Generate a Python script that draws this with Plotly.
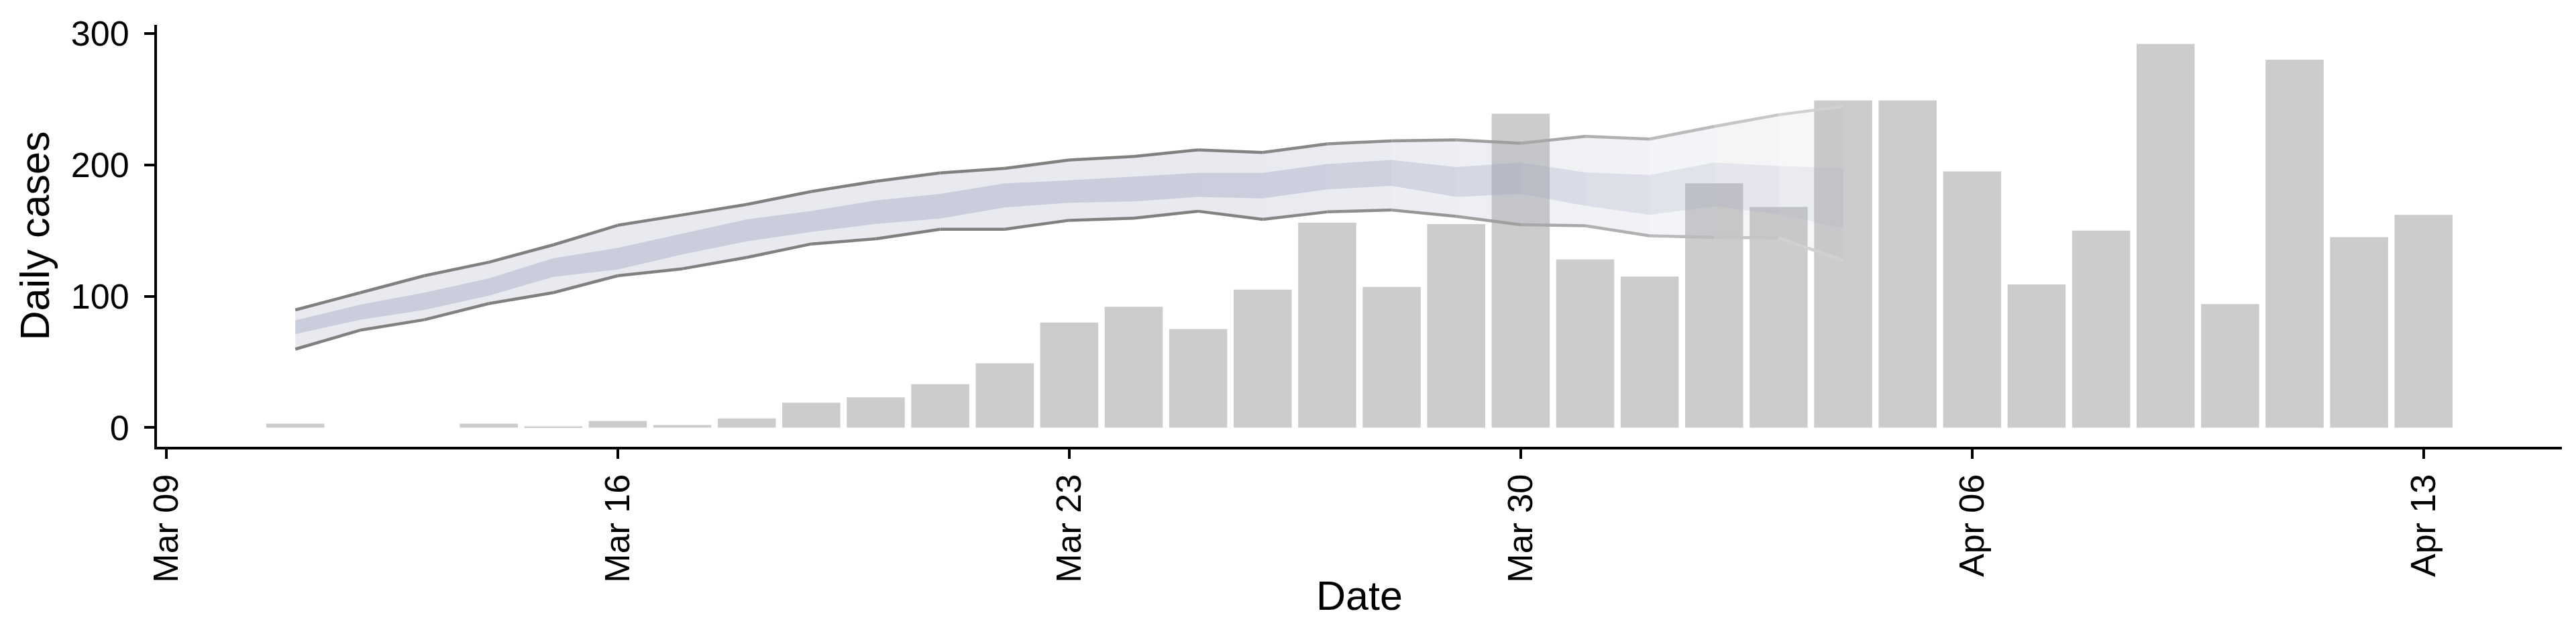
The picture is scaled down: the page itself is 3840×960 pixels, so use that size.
import pandas as pd
import plotly.graph_objects as go

# ---------------- data ----------------
case_dates = pd.date_range("2020-03-11", "2020-04-13", freq="D")
daily_cases = [3, 0, 0, 3, 1, 5, 2, 7, 19, 23,
               33, 49, 80, 92, 75, 105, 156, 107, 155, 239,
               128, 115, 186, 168, 249, 249, 195, 109, 150, 292,
               94, 280, 145, 162]

est_dates = pd.date_range("2020-03-11", "2020-04-04", freq="D")
outer_upper = [89.6, 102.6, 115.6, 125.9, 139.1, 154.0, 161.9, 169.9, 179.7, 187.5,
               193.9, 197.3, 203.7, 206.4, 211.4, 209.4, 216.0, 218.3, 219.0, 216.5,
               221.7, 219.7, 229.2, 238.1, 244.5]
outer_lower = [59.7, 74.1, 82.1, 94.4, 102.7, 115.6, 120.9, 129.5, 139.8, 143.7,
               151.0, 151.0, 157.8, 159.4, 164.7, 158.5, 164.2, 165.6, 160.8, 154.4,
               153.7, 146.0, 144.8, 144.4, 127.3]
inner_upper = [81.7, 93.5, 102.7, 113.6, 128.9, 136.8, 147.6, 158.5, 164.9, 172.9,
               177.9, 185.9, 188.2, 191.1, 193.9, 193.9, 200.7, 203.7, 198.4, 201.8,
               194.3, 192.3, 201.8, 199.1, 197.3]
inner_lower = [71.2, 82.1, 89.6, 100.4, 114.7, 120.4, 131.8, 141.8, 148.9, 155.1,
               159.2, 167.6, 171.1, 172.2, 175.6, 174.5, 181.3, 184.0, 175.6, 177.9,
               168.8, 161.9, 168.3, 162.6, 151.7]

tick_dates = ["2020-03-09", "2020-03-16", "2020-03-23", "2020-03-30", "2020-04-06", "2020-04-13"]
tick_labels = ["Mar 09", "Mar 16", "Mar 23", "Mar 30", "Apr 06", "Apr 13"]
y_ticks = [0, 100, 200, 300]

# ---------------- style ----------------
FONT = "Liberation Sans"
DAY_MS = 86400000
BAR_W = 0.9
fade_start = pd.Timestamp("2020-03-25")
fade_end = est_dates[-1]


def fade(t):
    """opacity multiplier: solid for the estimate, fading for the nowcast"""
    if t <= fade_start:
        return 1.0
    f = (t - fade_start) / (fade_end - fade_start)
    return 1.0 - 0.68 * (f ** 1.3)


fig = go.Figure()

fig.add_trace(go.Bar(
    x=case_dates, y=daily_cases, width=BAR_W * DAY_MS,
    marker=dict(color="#cccccc", line=dict(width=0)),
    hoverinfo="x+y",
))

# ribbons, drawn interval by interval so their opacity can fade
for i in range(len(est_dates) - 1):
    d0, d1 = est_dates[i], est_dates[i + 1]
    m = fade(d0 + (d1 - d0) / 2)
    xs = [d0, d1, d1, d0, d0]
    fig.add_trace(go.Scatter(
        x=xs, y=[outer_upper[i], outer_upper[i + 1], outer_lower[i + 1], outer_lower[i], outer_upper[i]],
        mode="lines", fill="toself", line=dict(width=0),
        fillcolor=f"rgba(167,171,195,{0.25 * m:.3f})", hoverinfo="skip",
    ))
    fig.add_trace(go.Scatter(
        x=xs, y=[inner_upper[i], inner_upper[i + 1], inner_lower[i + 1], inner_lower[i], inner_upper[i]],
        mode="lines", fill="toself", line=dict(width=0),
        fillcolor=f"rgba(155,163,190,{0.40 * m:.3f})", hoverinfo="skip",
    ))

for i in range(len(est_dates) - 1):
    d0, d1 = est_dates[i], est_dates[i + 1]
    m = fade(d0 + (d1 - d0) / 2)
    g = int(round(255 - 127 * m))
    col = f"rgb({g},{g},{g})"
    for arr in (outer_upper, outer_lower):
        fig.add_trace(go.Scatter(
            x=[d0, d1], y=[arr[i], arr[i + 1]], mode="lines",
            line=dict(color=col, width=4.5), hoverinfo="skip",
        ))

# axis ranges with ggplot-like 5% expansion
left = case_dates[0] - pd.Timedelta(days=BAR_W / 2)
right = case_dates[-1] + pd.Timedelta(days=BAR_W / 2)
pad = (right - left) * 0.05
ymax = max(max(daily_cases), max(outer_upper))
ypad = 0.05 * ymax

fig.update_layout(
    width=3840, height=960,
    margin=dict(l=226, r=29, t=29, b=302),
    plot_bgcolor="white", paper_bgcolor="white",
    showlegend=False,
    font=dict(family=FONT, color="black"),
    xaxis=dict(
        type="date", range=[left - pad, right + pad],
        tickvals=tick_dates, ticktext=tick_labels, tickangle=-90,
        ticks="outside", ticklen=14, tickwidth=4, tickcolor="black",
        showline=True, linewidth=4, linecolor="black",
        showgrid=False, zeroline=False,
        tickfont=dict(family=FONT, size=52, color="black"),
        ticklabelstandoff=2,
        title=dict(text="Date", font=dict(family=FONT, size=61, color="black"), standoff=0),
    ),
    yaxis=dict(
        range=[-ypad, ymax + ypad], tickvals=y_ticks,
        ticks="outside", ticklen=15, tickwidth=4, tickcolor="black",
        showline=True, linewidth=4, linecolor="black",
        showgrid=False, zeroline=False,
        tickfont=dict(family=FONT, size=52, color="black"),
        ticklabelstandoff=12,
        title=dict(text="Daily cases", font=dict(family=FONT, size=61, color="black"), standoff=13),
    ),
)

fig.write_html("out.html")
